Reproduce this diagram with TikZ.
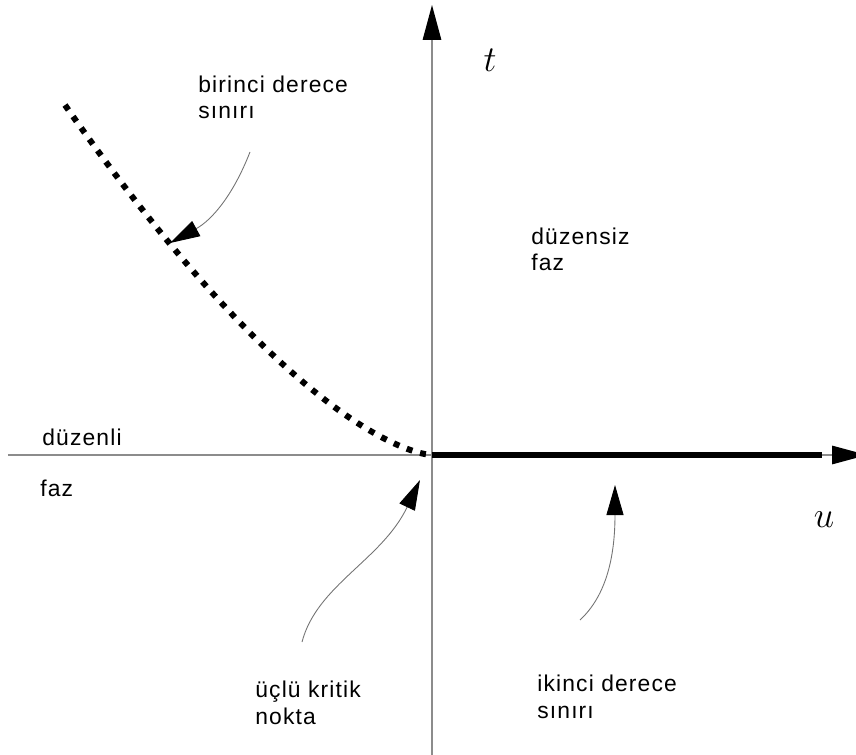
\documentclass[tikz,border=0pt]{standalone}
\usepackage{fontspec}
\setmainfont{Liberation Sans}
\newfontfamily\notefont[LetterSpace=5]{Liberation Sans}
\usepackage{tikz}
\usetikzlibrary{arrows.meta, positioning, calc}

\begin{document}
\begin{tikzpicture}[
  axis/.style={draw=black!45, line width=0.8pt, -{Triangle[length=0.7cm, width=0.37cm, color=black]}},
  pointer/.style={draw=black!55, line width=0.5pt, -{Triangle[length=0.6cm, width=0.34cm, color=black]}},
  note/.style={anchor=base west, inner sep=0pt, align=left, font=\notefont\fontsize{13}{15.3}\selectfont},
  varlabel/.style={inner sep=0pt, font=\fontsize{21}{24}\selectfont}
]
  \useasboundingbox (-8.64, -6.0) rectangle (8.48, 9.1);

  \coordinate (origin) at (0, 0);
  \coordinate (tend) at (0, 9.0);
  \coordinate (tstart) at (0, -6.0);
  \coordinate (uend) at (8.7, 0);
  \coordinate (ustart) at (-8.48, 0);
  \coordinate (secondend) at (7.8, 0);

  % axes
  \draw[axis] (tstart) -- (tend);
  \draw[axis] (ustart) -- (uend);
  \node[varlabel] (tlabel) at (1.16, 7.9) {$t$};
  \node[varlabel] (ulabel) at (7.84, -1.3) {$u$};

  % phase boundaries
  \draw[line width=3.2pt] (origin) -- (secondend);
  \draw[line width=0.12cm, dash pattern=on 0.12cm off 0.16cm]
    plot[domain=-7.34:0, samples=60, smooth] (\x, {0.352*pow(abs(\x),1.5)});

  % labels (base = last line)
  \node[note] (first) at (-4.68, 6.72) {birinci derece\\sınırı};
  \node[note] (disordered) at (1.98, 3.68) {düzensiz\\faz};
  \node[note] (ordered) at (-7.8, 0.2) {düzenli};
  \node[note] (orderedfaz) at (-7.84, -0.84) {faz};
  \node[note] (tricrit) at (-3.54, -5.38) {üçlü kritik\\nokta};
  \node[note] (second) at (2.1, -5.26) {ikinci derece\\sınırı};

  % pointers
  \coordinate (p1s) at (-3.64, 6.06);
  \coordinate (p1e) at (-5.24, 4.24);
  \coordinate (p2s) at (-2.6, -3.74);
  \coordinate (p2e) at (-0.24, -0.5);
  \coordinate (p3s) at (2.96, -3.3);
  \coordinate (p3e) at (3.66, -0.6);
  \draw[pointer] (p1s) to[bend left=20] (p1e);
  \draw[pointer] (p2s) .. controls (-2.3, -2.6) and (-1.0, -2.1) .. (p2e);
  \draw[pointer] (p3s) .. controls (3.5, -2.8) and (3.66, -2.0) .. (p3e);
\end{tikzpicture}
\end{document}
